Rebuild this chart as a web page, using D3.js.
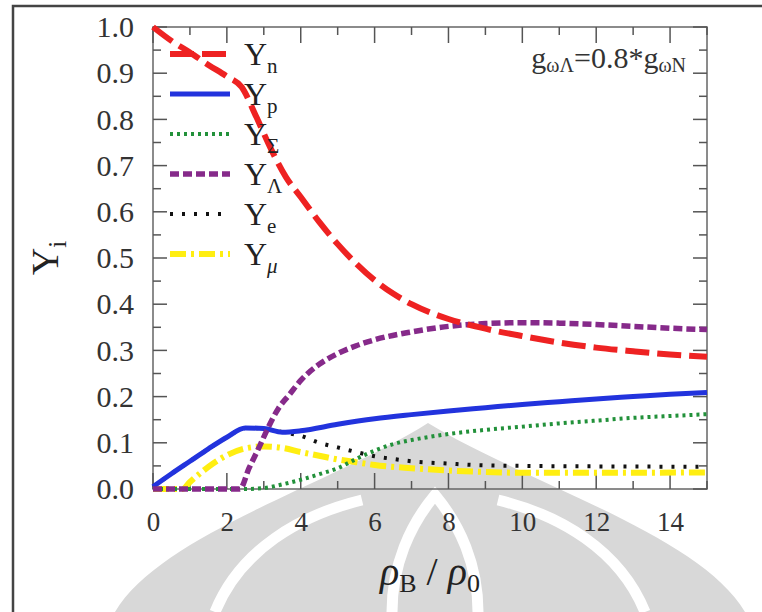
<!DOCTYPE html>
<html><head><meta charset="utf-8">
<script src="https://cdn.jsdelivr.net/npm/d3@7"></script>
<style>body{margin:0;background:#fff}svg{display:block}svg text{font-family:'Liberation Serif','Times New Roman',Times,serif !important}</style>
</head><body>
<svg id="c" width="762" height="612"></svg>
<script>
// ---- data ----
const xN = [0,0.5,1,1.5,2,2.4,2.8,3.2,3.6,4,4.5,5,5.5,6,6.5,7,7.5,8,9,10,11,12,13,14,15];
const yN = [1.0,0.97,0.945,0.918,0.893,0.87,0.805,0.735,0.675,0.632,0.578,0.53,0.488,0.452,0.423,0.4,0.382,0.368,0.347,0.331,0.317,0.306,0.298,0.291,0.286];
const xP = [0,0.5,1,1.5,2,2.5,3,3.5,4,5,6,7,8,9,10,11,12,13,14,15];
const yP = [0.005,0.033,0.06,0.087,0.112,0.132,0.131,0.123,0.126,0.14,0.152,0.161,0.169,0.176,0.183,0.189,0.195,0.2,0.205,0.209];
const xS = [0,2.5,3,3.5,4,4.5,5,5.5,6,6.5,7,7.5,8,9,10,11,12,13,14,15];
const yS = [0,0,0.002,0.01,0.02,0.032,0.045,0.065,0.083,0.097,0.106,0.113,0.119,0.128,0.135,0.142,0.148,0.154,0.158,0.162];
const xL = [0,2.35,2.6,2.9,3.1,3.4,3.7,4,4.5,5,5.5,6,7,8,9,10,11,12,13,14,15];
const yL = [0,0,0.045,0.095,0.13,0.175,0.205,0.235,0.27,0.293,0.31,0.323,0.34,0.352,0.358,0.36,0.359,0.356,0.352,0.348,0.345];
const xE = [0,0.5,1,1.5,2,2.5,3,3.5,4,4.5,5,5.5,6,6.5,7,8,9,10,12,15];
const yE = [0.005,0.033,0.06,0.087,0.112,0.132,0.131,0.123,0.115,0.1,0.09,0.08,0.071,0.065,0.06,0.055,0.051,0.05,0.049,0.048];
const xM = [0,0.8,1,1.5,2,2.5,3,3.5,4,4.5,5,5.5,6,7,8,9,10,12,15];
const yM = [0,0,0.015,0.048,0.073,0.088,0.092,0.089,0.08,0.072,0.064,0.058,0.052,0.045,0.04,0.037,0.035,0.035,0.036];
const seriesNames = ["n","p","Σ","Λ","e","μ"];
const xTicks = [0,2,4,6,8,10,12,14];
const yTicks = [0,0.1,0.2,0.3,0.4,0.5,0.6,0.7,0.8,0.9,1.0];

const FONT = "'Liberation Serif','Times New Roman',Times,serif";
const svg = d3.select("#c").attr("font-family",FONT);
const L=153, R=707, T=27, B=489;
const x = d3.scaleLinear().domain([0,15]).range([L,R]);
const y = d3.scaleLinear().domain([0,1]).range([B,T]);

// watermark (faint logo)
const wm = svg.append("g");
wm.append("path").attr("d","M115,612 C160,535 330,485 428,423 C530,485 700,535 745,612 Z").attr("fill","#d8d8d8");
[
 "M215,612 C240,550 300,515 362,500",
 "M645,612 C620,550 560,515 498,500",
 "M392,612 C392,565 410,525 435,495 C460,525 478,565 478,612"
].forEach(d=>wm.append("path").attr("d",d).attr("fill","none").attr("stroke","#fff").attr("stroke-width",11));

// outer frame
svg.append("path").attr("d","M13,612 L13,6 L762,6").attr("fill","none").attr("stroke","#444").attr("stroke-width",2.5);

// axes box
const ax = svg.append("g");
ax.append("rect").attr("x",L).attr("y",T).attr("width",R-L).attr("height",B-T).attr("fill","none").attr("stroke","#666").attr("stroke-width",1.5);

const xMinor = d3.range(0,16,1), yMinor = d3.range(0,1.001,0.05);
const tickG = ax.append("g").attr("stroke","#555").attr("stroke-width",1.5);
xMinor.forEach(v=>{
  const major = v%2===0, len = major?16:8, px=x(v);
  tickG.append("line").attr("x1",px).attr("x2",px).attr("y1",B).attr("y2",B-len);
  tickG.append("line").attr("x1",px).attr("x2",px).attr("y1",T).attr("y2",T+len);
});
yMinor.forEach((v,i)=>{
  const major = i%2===0, len = major?14:8, py=y(v);
  tickG.append("line").attr("x1",L).attr("x2",L+len).attr("y1",py).attr("y2",py);
  tickG.append("line").attr("x1",R).attr("x2",R-len).attr("y1",py).attr("y2",py);
});

// tick labels via d3 axes (no lines)
const xa = svg.append("g").attr("transform",`translate(0,${B})`).call(d3.axisBottom(x).tickValues(xTicks).tickFormat(d3.format("d")).tickSize(0).tickPadding(23));
xa.attr("font-family",FONT).select(".domain").remove();
xa.selectAll("text").attr("font-size",27).attr("fill","#333");
const ya = svg.append("g").attr("transform",`translate(${L},0)`).call(d3.axisLeft(y).tickValues(yTicks).tickFormat(d3.format(".1f")).tickSize(0).tickPadding(19));
ya.attr("font-family",FONT).select(".domain").remove();
ya.selectAll("text").attr("font-size",30).attr("fill","#333");

// axis titles
const yt = svg.append("text").attr("transform",`translate(58,${(T+B)/2}) rotate(-90)`).attr("text-anchor","middle").attr("font-size",38).attr("fill","#222");
yt.append("tspan").text("Y");
yt.append("tspan").attr("font-size",25).attr("dy",8).text("i");
const xt = svg.append("text").attr("x",(L+R)/2).attr("y",585).attr("text-anchor","middle").attr("font-size",40).attr("fill","#222");
xt.append("tspan").attr("font-style","italic").text("ρ");
xt.append("tspan").attr("font-size",26).attr("dy",7).text("B");
xt.append("tspan").attr("dy",-7).text(" / ");
xt.append("tspan").attr("font-style","italic").text("ρ");
xt.append("tspan").attr("font-size",26).attr("dy",7).text("0");

// annotation
const an = svg.append("text").attr("x",686).attr("y",68).attr("text-anchor","end").attr("font-size",30).attr("fill","#333");
an.append("tspan").text("g");
an.append("tspan").attr("font-size",20).attr("dy",4).text("ωΛ");
an.append("tspan").attr("dy",-4).text("=0.8*g");
an.append("tspan").attr("font-size",20).attr("dy",4).text("ωN");

// series
const styles = [
  {xs:xN, ys:yN, color:"#ee2222", w:6, dash:"24,8"},
  {xs:xP, ys:yP, color:"#2233dd", w:5, dash:null},
  {xs:xS, ys:yS, color:"#22913a", w:4, dash:"3,4"},
  {xs:xL, ys:yL, color:"#862a8a", w:5.5, dash:"9,4"},
  {xs:xE, ys:yE, color:"#111111", w:4, dash:"3,9"},
  {xs:xM, ys:yM, color:"#ffee11", w:6, dash:"16,5,3,5"}
];
const line = d3.line().x(d=>x(d[0])).y(d=>y(d[1])).curve(d3.curveMonotoneX);
[5,2,4,1,3,0].forEach(i=>{
  const s = styles[i];
  const data = s.xs.map((v,k)=>[v,s.ys[k]]);
  const p = svg.append("path").datum(data).attr("d",line).attr("fill","none").attr("stroke",s.color).attr("stroke-width",s.w);
  if(s.dash) p.attr("stroke-dasharray",s.dash);
});

// legend
const lg = svg.append("g");
seriesNames.forEach((nm,i)=>{
  const s = styles[i], ly = 54 + i*40;
  const l = lg.append("line").attr("x1",170).attr("x2",230).attr("y1",ly).attr("y2",ly).attr("stroke",s.color).attr("stroke-width",s.w);
  if(s.dash) l.attr("stroke-dasharray",s.dash);
  const t = lg.append("text").attr("x",244).attr("y",ly+11).attr("font-size",32).attr("fill","#222");
  t.append("tspan").text("Y");
  const sub = t.append("tspan").attr("font-size",21).attr("dy",8).text(nm);
  if(nm==="μ") sub.attr("font-style","italic");
});
</script>
</body></html>
